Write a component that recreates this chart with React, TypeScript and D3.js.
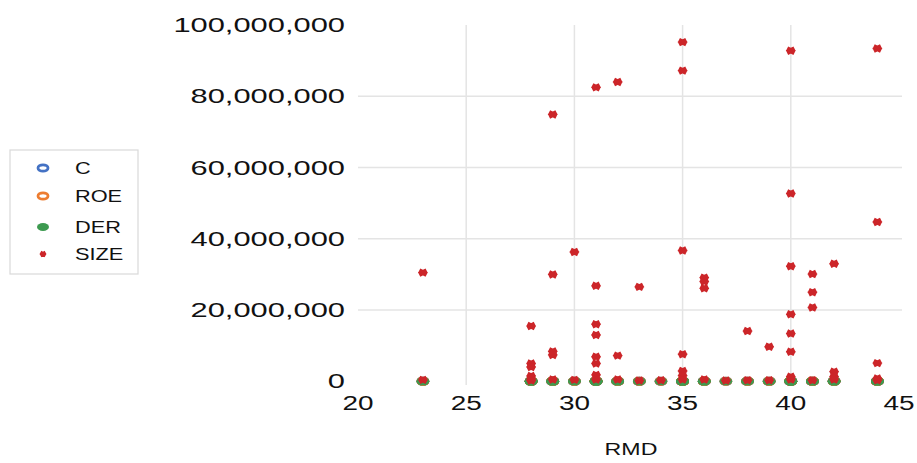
import React from "react";
import * as d3 from "d3";

const W = 917;
const H = 463;

// Observations: RMD (x) and each series value (y)
const RMD = [
  23, 23,
  28, 28, 28, 28, 28, 28,
  29, 29, 29, 29, 29,
  30, 30,
  31, 31, 31, 31, 31, 31, 31, 31,
  32, 32, 32,
  33, 33,
  34,
  35, 35, 35, 35, 35, 35, 35,
  36, 36, 36, 36,
  37,
  38, 38,
  39, 39,
  40, 40, 40, 40, 40, 40, 40, 40,
  41, 41, 41, 41,
  42, 42, 42, 42,
  44, 44, 44, 44, 44,
];

const SIZE = [
  30.5e6, 0.4e6,
  15.5e6, 5.0e6, 4.0e6, 1.5e6, 0.6e6, 0.2e6,
  74.9e6, 30.0e6, 8.4e6, 7.4e6, 0.5e6,
  36.3e6, 0.4e6,
  82.5e6, 26.8e6, 16.0e6, 13.0e6, 6.9e6, 5.0e6, 1.8e6, 0.5e6,
  84.0e6, 7.2e6, 0.5e6,
  26.5e6, 0.2e6,
  0.3e6,
  95.2e6, 87.2e6, 36.7e6, 7.6e6, 2.9e6, 1.6e6, 0.5e6,
  29.1e6, 28.0e6, 26.1e6, 0.5e6,
  0.2e6,
  14.1e6, 0.3e6,
  9.7e6, 0.3e6,
  92.8e6, 52.7e6, 32.3e6, 18.8e6, 13.4e6, 8.3e6, 1.3e6, 0.5e6,
  30.1e6, 25.0e6, 20.7e6, 0.3e6,
  33.0e6, 2.7e6, 1.3e6, 0.5e6,
  93.4e6, 44.7e6, 5.1e6, 0.8e6, 0.3e6,
];

// C, ROE and DER are all tiny compared with SIZE (they sit on the zero line)
const C_VALUES = RMD.map(() => 0.5);
const ROE_VALUES = RMD.map(() => 0.1);
const DER_VALUES = RMD.map(() => 1.2);

const SERIES = ["C", "ROE", "DER", "SIZE"];
const COLORS = ["#4472c4", "#ed7d31", "#3d9a50", "#cc2529"];

const X_TICKS = [20, 25, 30, 35, 40, 45];
const Y_TICKS = [0, 20e6, 40e6, 60e6, 80e6, 100e6];
const X_GRID = [25, 30, 35, 40];
const Y_GRID = [20e6, 40e6, 60e6, 80e6];
const X_TITLE = "RMD";

const FONT = "'Liberation Sans', Arial, sans-serif";

function STxt(props: {
  x: number;
  y: number;
  sx: number;
  size: number;
  anchor: string;
  children: React.ReactNode;
}) {
  return (
    <text
      transform={`translate(${props.x},${props.y}) scale(${props.sx},1)`}
      textAnchor={props.anchor as any}
      dominantBaseline="central"
      fontFamily={FONT}
      fontSize={props.size}
      fill="#111"
    >
      {props.children}
    </text>
  );
}

function Cross({ cx, cy, color, w = 3.8, h = 1.9, sw = 5.2 }: any) {
  return (
    <path
      d={`M${cx - w},${cy - h}L${cx + w},${cy + h}M${cx - w},${cy + h}L${cx + w},${cy - h}`}
      stroke={color}
      strokeWidth={sw}
      strokeLinecap="butt"
      fill="none"
    />
  );
}

export default function App() {
  const x = d3.scaleLinear().domain([20, 45]).range([358, 899]);
  const y = d3.scaleLinear().domain([0, 100e6]).range([381.3, 25]);
  const fmt = d3.format(",");

  const circleSeries = [C_VALUES, ROE_VALUES, DER_VALUES];

  return (
    <svg
      width={W}
      height={H}
      style={{ position: "absolute", left: 0, top: 0, background: "#fff" }}
    >
      {/* gridlines */}
      {Y_GRID.map((v) => (
        <line
          key={"hy" + v}
          x1={x(20)}
          x2={902}
          y1={y(v)}
          y2={y(v)}
          stroke="#e4e4e4"
          strokeWidth={1.5}
        />
      ))}
      {X_GRID.map((v) => (
        <line
          key={"vx" + v}
          x1={x(v)}
          x2={x(v)}
          y1={y(100e6)}
          y2={385}
          stroke="#e4e4e4"
          strokeWidth={1.5}
        />
      ))}

      {/* y tick labels */}
      {Y_TICKS.map((v) => (
        <STxt key={"yt" + v} x={345} y={y(v)} sx={1.47} size={21} anchor="end">
          {fmt(v)}
        </STxt>
      ))}
      {/* x tick labels */}
      {X_TICKS.map((v) => (
        <STxt key={"xt" + v} x={x(v)} y={403} sx={1.33} size={21} anchor="middle">
          {v}
        </STxt>
      ))}
      <STxt x={631} y={449} sx={1.45} size={16} anchor="middle">
        {X_TITLE}
      </STxt>

      {/* circle series */}
      {circleSeries.map((vals, si) =>
        vals.map((v, i) =>
          si === 2 ? (
            <ellipse
              key={si + "-" + i}
              cx={x(RMD[i])}
              cy={y(v)}
              rx={6.3}
              ry={4}
              fill={COLORS[si]}
            />
          ) : (
            <ellipse
              key={si + "-" + i}
              cx={x(RMD[i])}
              cy={y(v)}
              rx={5}
              ry={3.2}
              fill="#fff"
              stroke={COLORS[si]}
              strokeWidth={2.8}
            />
          )
        )
      )}
      {/* SIZE series */}
      {SIZE.map((v, i) => (
        <Cross key={"s" + i} cx={x(RMD[i])} cy={y(v)} color={COLORS[3]} />
      ))}

      {/* legend */}
      <rect x={10} y={150} width={128} height={124} fill="#fff" stroke="#d9d9d9" strokeWidth={1.2} />
      {SERIES.map((s, i) => {
        const ly = [168, 196, 227, 254][i];
        return (
          <g key={"lg" + s}>
            {i < 2 ? (
              <ellipse cx={43} cy={ly} rx={5} ry={3.2} fill="#fff" stroke={COLORS[i]} strokeWidth={2.8} />
            ) : i === 2 ? (
              <ellipse cx={43} cy={ly} rx={6} ry={4} fill={COLORS[i]} />
            ) : (
              <Cross cx={43} cy={ly} color={COLORS[i]} w={2.6} h={1.4} sw={4} />
            )}
            <STxt x={75} y={ly} sx={1.28} size={17} anchor="start">
              {s}
            </STxt>
          </g>
        );
      })}
    </svg>
  );
}
